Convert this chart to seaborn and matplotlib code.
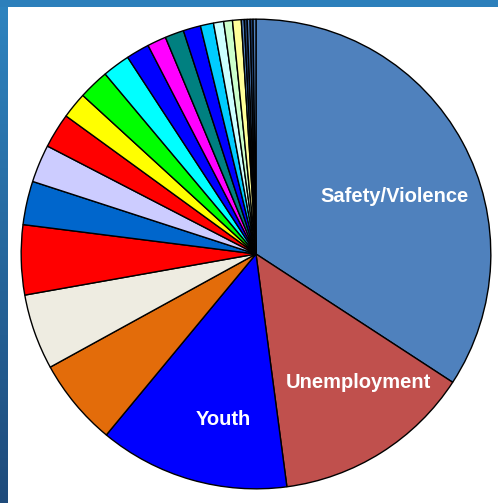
import numpy as np
import matplotlib
matplotlib.use("Agg")
import matplotlib.pyplot as plt
import seaborn as sns

# доли ответов (в процентах), по часовой стрелке от 12 часов
labels = ["Safety/Violence", "Unemployment", "Youth"] + [""] * 22
shares = [34.2, 13.7, 13.1, 6.0, 5.2, 4.8, 3.0, 2.6, 2.4, 1.8,
          2.1, 1.9, 1.6, 1.3, 1.3, 1.2, 0.9, 0.7, 0.6, 0.6,
          0.2, 0.2, 0.2, 0.2, 0.2]
colors = ["#4F81BD", "#C0504D", "#0000FF", "#E36C0A", "#EEECE1",
          "#FF0000", "#0066CC", "#CCCCFF", "#FF0000", "#FFFF00",
          "#00FF00", "#00FFFF", "#0000FF", "#FF00FF", "#008080",
          "#0000FF", "#00CCFF", "#CCFFFF", "#CCFFCC", "#FFFF99",
          "#4F81BD", "#1F3F6F", "#4F81BD", "#1F3F6F", "#4F81BD"]

sns.set_theme(style="white")
plt.rcParams["font.family"] = ["Liberation Sans", "DejaVu Sans"]

W, H = 498, 503
fig = plt.figure(figsize=(W / 100, H / 100), dpi=100)
fig.patch.set_facecolor("white")

# рамка слайда: градиент слева и полоса сверху
left = fig.add_axes([0, 0, 7 / W, 1])
grad = np.linspace(0, 1, 256).reshape(-1, 1)
cmap = matplotlib.colors.LinearSegmentedColormap.from_list(
    "frame", ["#2E84C0", "#1F4B7B"])
left.imshow(grad, aspect="auto", cmap=cmap, extent=[0, 1, 0, 1])
left.axis("off")
top = fig.add_axes([0, 1 - 7 / H, 1, 7 / H])
top.set_facecolor("#2C7FBB")
top.set_xticks([])
top.set_yticks([])
for s in top.spines.values():
    s.set_visible(False)

r = 236
cx, cy = 256, 254
ax = fig.add_axes([(cx - r) / W, (H - cy - r) / H, 2 * r / W, 2 * r / H])
wedges, texts = ax.pie(shares, labels=labels, colors=colors,
                       startangle=90, counterclock=False,
                       labeldistance=0.68,
                       wedgeprops=dict(edgecolor="black", linewidth=1),
                       textprops=dict(color="white", fontsize=14.5,
                                      fontweight="bold"))

# подписи сдвинуты от середины сектора, как на исходной картинке
label_place = {0: (0.64, -6), 1: (0.70, 6.5), 2: (0.72, 5)}
for i, t in enumerate(texts):
    t.set_ha("center")
    t.set_va("center")
    if i in label_place:
        w = wedges[i]
        d, shift = label_place[i]
        ang = np.deg2rad((w.theta1 + w.theta2) / 2 + shift)
        t.set_position((d * np.cos(ang), d * np.sin(ang)))

ax.set_xlim(-1.005, 1.005)
ax.set_ylim(-1.005, 1.005)
ax.set_aspect("equal")
ax.axis("off")

fig.savefig("out.png", dpi=100)
